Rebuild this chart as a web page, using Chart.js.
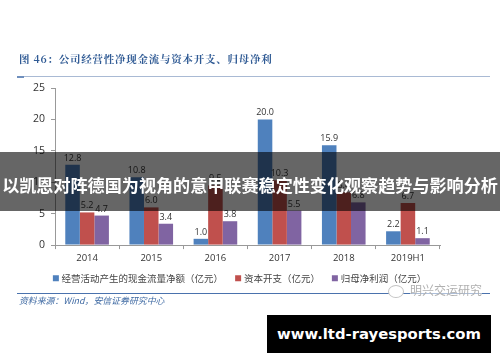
<!DOCTYPE html>
<html>
<head>
<meta charset="utf-8">
<script src="https://cdn.jsdelivr.net/npm/chart.js@4"></script>
<style>
html, body { margin: 0; padding: 0; background: #fff; }
#wrap { position: relative; width: 500px; height: 362px; overflow: hidden; font-family: "Noto Sans CJK SC", sans-serif; }
#chart { position: absolute; left: 0; top: 0; }
.abs { position: absolute; white-space: nowrap; }
#title { left: 19px; top: 52px; font-size: 10.5px; font-weight: bold; color: #2f5a94; font-family: "Noto Serif CJK SC", "Noto Sans CJK SC", sans-serif; letter-spacing: 0.75px; line-height: 14px; }
#rule1 { left: 17px; top: 76px; width: 473px; height: 1px; background: #a9bad4; }
#stub1 { left: 17px; top: 76px; width: 7px; height: 2px; background: #6f8fbd; }
#rule2 { left: 17px; top: 293px; width: 473px; height: 1px; background: #4a72ad; }
#source { left: 19px; top: 295px; font-size: 8.9px; font-style: italic; color: #3f6aa3; line-height: 12px; }
#bubble { left: 388px; top: 285px; width: 14px; height: 11px; border: 1px solid #c4c4c4; border-radius: 50%; background: #fff; }
#mark { left: 410px; top: 283px; font-size: 12px; color: #b0b0b0; line-height: 14px; background: rgba(255,255,255,.55); }
#band { left: 0; top: 152px; width: 500px; height: 59px; background: rgba(0,0,0,.6); }
#headline { left: 0; top: 152px; width: 500px; height: 59px; line-height: 65px; text-align: center; color: #fff; font-size: 17.1px; font-weight: bold; }
#site { left: 267px; top: 315px; width: 224px; height: 38px; line-height: 38px; background: #000; color: #fff; text-align: center; font-family: "DejaVu Sans", sans-serif; font-weight: bold; font-size: 14.8px; }
</style>
</head>
<body>
<div id="wrap">
  <canvas id="chart" width="500" height="362"></canvas>
  <div class="abs" id="title">图 46：公司经营性净现金流与资本开支、归母净利</div>
  <div class="abs" id="rule1"></div>
  <div class="abs" id="stub1"></div>
  <div class="abs" id="rule2"></div>
  <div class="abs" id="source">资料来源：Wind，安信证券研究中心</div>
  <div class="abs" id="bubble"></div>
  <div class="abs" id="mark">明兴交运研究</div>
  <div class="abs" id="band"></div>
  <div class="abs" id="headline">以凯恩对阵德国为视角的意甲联赛稳定性变化观察趋势与影响分析</div>
  <div class="abs" id="site">www.ltd-rayesports.com</div>
</div>
<script>
var categories = ['2014', '2015', '2016', '2017', '2018', '2019H1'];
var cashFlow = [12.8, 10.8, 1.0, 20.0, 15.9, 2.2];
var capex = [5.2, 6.0, 9.5, 10.3, 8.4, 6.7];
var netProfit = [4.7, 3.4, 3.8, 5.5, 6.8, 1.1];
var seriesNames = ['经营活动产生的现金流量净额（亿元）', '资本开支（亿元）', '归母净利润（亿元）'];
var yTicks = [0, 5, 10, 15, 20, 25];

// value labels above each bar, Chart.js has no built in ones
var barLabels = {
    id: 'barLabels',
    afterLayout: function(chart) {
        // legend sits a bit right of the plot centre in the picture, and closer to the axis
        chart.legend.left += 7;
        chart.legend.right += 7;
        chart.legend.top -= 7;
        chart.legend.bottom -= 7;
    },
    afterDatasetsDraw: function(chart) {
        var ctx = chart.ctx;
        ctx.save();
        ctx.fillStyle = '#333';
        ctx.font = '9px "Open Sans", sans-serif';
        ctx.textAlign = 'center';
        ctx.textBaseline = 'bottom';
        chart.data.datasets.forEach(function(ds, d) {
            chart.getDatasetMeta(d).data.forEach(function(bar, i) {
                ctx.fillText(ds.data[i].toFixed(1), bar.x, bar.y - 2);
            });
        });
        ctx.restore();
    }
};

new Chart(document.getElementById('chart').getContext('2d'), {
    type: 'bar',
    data: {
        labels: categories,
        datasets: [
            { label: seriesNames[0], data: cashFlow, backgroundColor: '#4f81bd' },
            { label: seriesNames[1], data: capex, backgroundColor: '#c0504d' },
            { label: seriesNames[2], data: netProfit, backgroundColor: '#8064a2' }
        ]
    },
    options: {
        responsive: false,
        animation: false,
        layout: { padding: { left: 27, right: 60, top: 88, bottom: 62 } },
        datasets: { bar: { categoryPercentage: 0.68, barPercentage: 1 } },
        plugins: {
            tooltip: { enabled: false },
            legend: {
                position: 'bottom',
                labels: {
                    usePointStyle: true,
                    pointStyle: 'rect',
                    boxWidth: 2,
                    boxHeight: 6,
                    padding: 14,
                    color: '#444',
                    font: { size: 9.5, family: '"Noto Sans CJK SC", sans-serif' }
                }
            }
        },
        scales: {
            x: {
                grid: { display: true, drawOnChartArea: false, color: '#999', tickLength: 4, offset: true },
                border: { color: '#999' },
                ticks: { color: '#333', font: { size: 9.5, family: '"Open Sans", sans-serif' }, padding: 3, maxRotation: 0 }
            },
            y: {
                min: 0,
                max: 25,
                afterBuildTicks: function(axis) {
                    axis.ticks = yTicks.map(function(v) { return { value: v }; });
                },
                grid: { display: true, drawOnChartArea: false, color: '#999', tickLength: 4 },
                border: { color: '#999' },
                ticks: { color: '#333', font: { size: 10.5, family: '"Open Sans", sans-serif' }, padding: 6 }
            }
        }
    },
    plugins: [barLabels]
});
</script>
</body>
</html>
